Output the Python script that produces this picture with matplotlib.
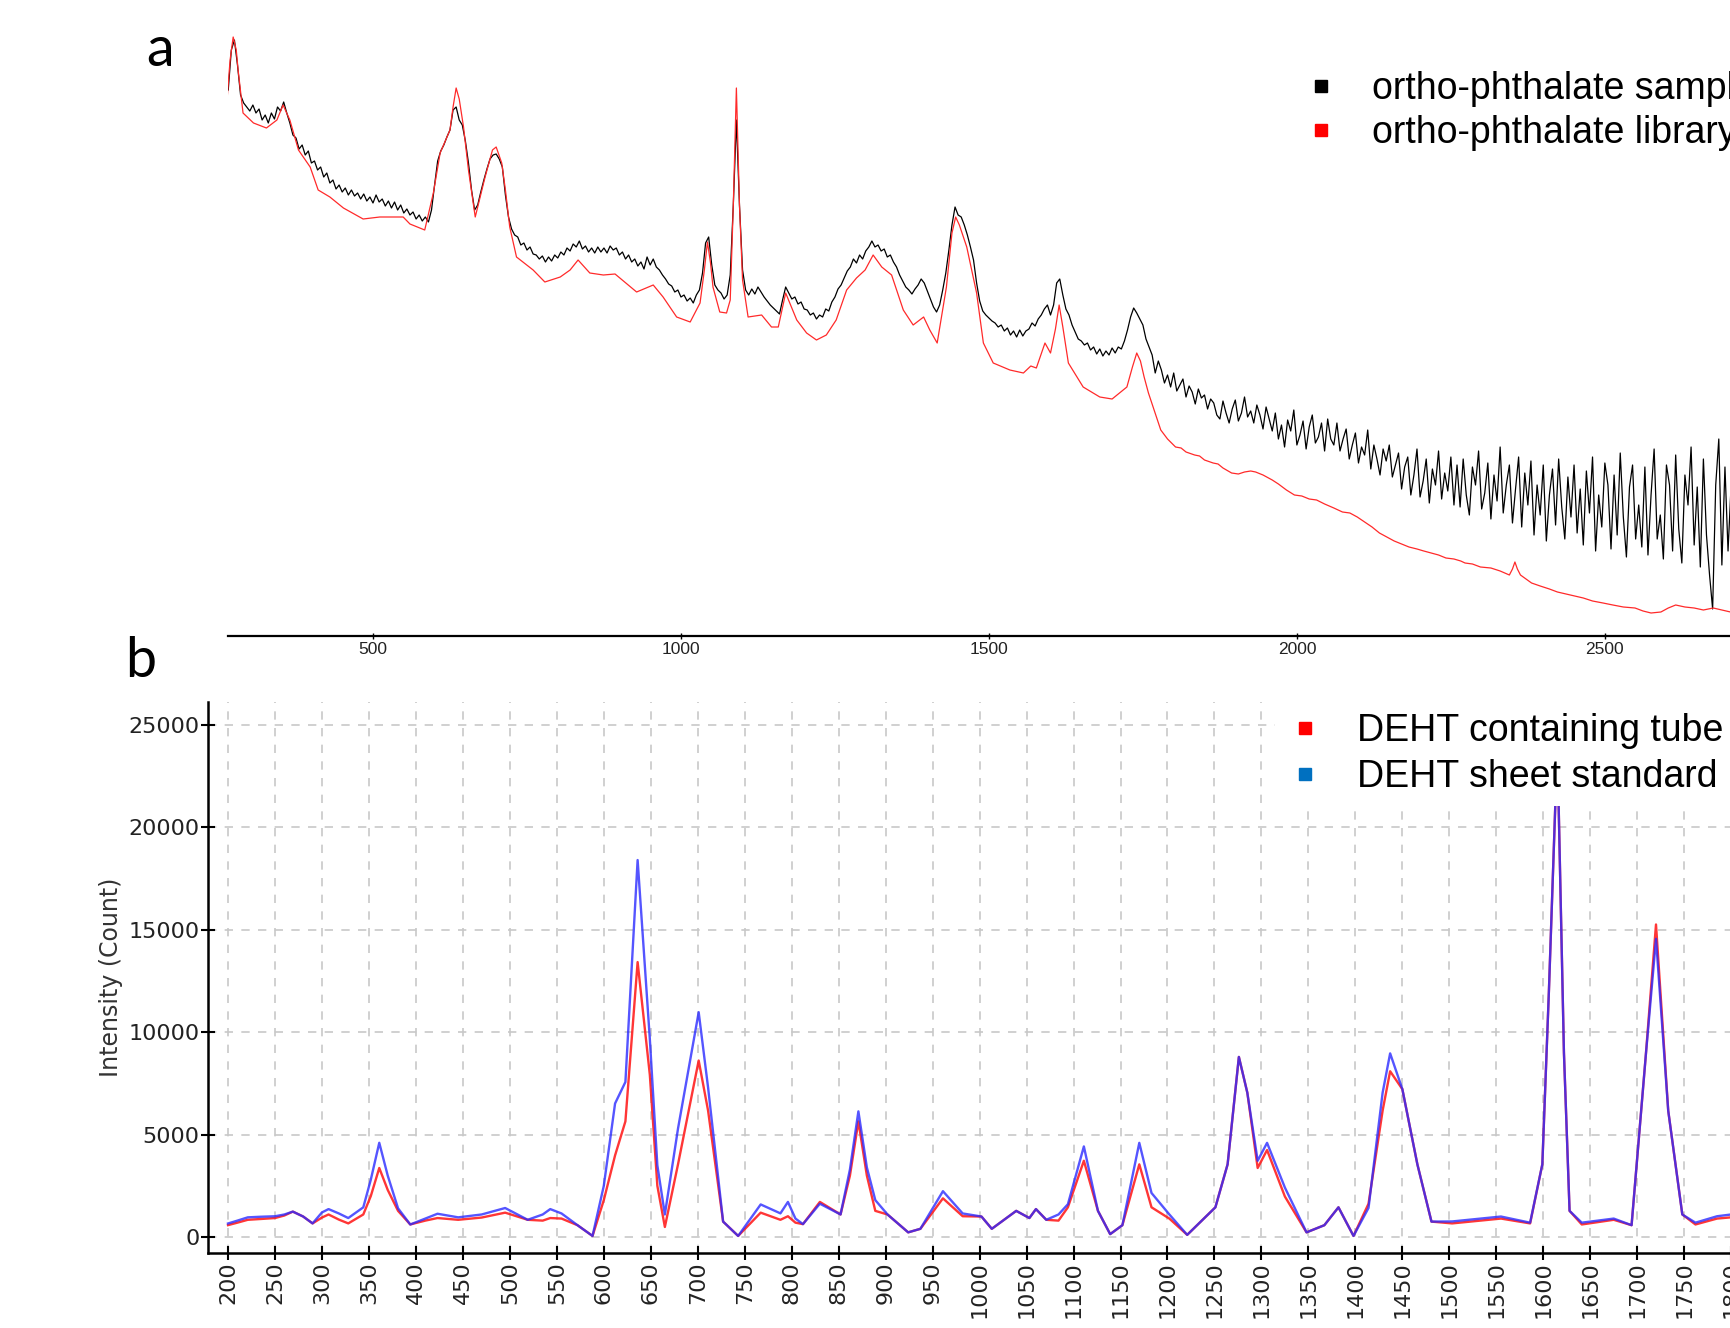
import numpy as np
import matplotlib.pyplot as plt
from matplotlib.lines import Line2D

W, H = 1731, 1328

# ---- panel a: Raman spectra, arbitrary intensity ----
# library spectrum (red), read at key points
lib_wn = [263, 268, 273, 278, 281, 289, 306, 327, 344, 354, 365, 379, 398, 411, 430, 452,
          484, 511, 549, 560, 584, 598, 609, 625, 630, 635, 640, 647, 655, 666, 682, 694,
          700, 709, 715, 722, 733, 760, 779, 804, 820, 833, 852, 874, 893, 928, 955, 971,
          993, 1015, 1031, 1038, 1043, 1048, 1052, 1063, 1074, 1080, 1085, 1090, 1095, 1100,
          1109, 1131, 1147, 1158, 1170, 1188, 1204, 1220, 1236, 1252, 1269, 1285, 1299, 1312,
          1326, 1342, 1361, 1377, 1394, 1404, 1416, 1431, 1440, 1446, 1452, 1464, 1480, 1491,
          1507, 1534, 1556, 1568, 1577, 1591, 1600, 1608, 1614, 1620, 1629, 1653, 1680, 1700,
          1724, 1733, 1740, 1746, 1752, 1759,
          1779, 1790, 1803, 1812, 1820, 1834, 1842, 1850, 1864, 1872, 1880, 1894, 1905, 1915,
          1925, 1933, 1945, 1960, 1970, 1983, 1996, 2008, 2020, 2032, 2045, 2060, 2074, 2086,
          2098, 2110, 2122, 2134, 2146, 2158, 2170, 2182, 2195, 2206, 2218, 2230, 2242, 2255,
          2266, 2273, 2285, 2298, 2315, 2330, 2345, 2350, 2354, 2358, 2363, 2372, 2381, 2395,
          2410, 2423, 2437, 2451, 2465, 2480, 2497, 2513, 2530, 2549, 2562, 2575, 2591, 2603,
          2615, 2630, 2645, 2660, 2676, 2690, 2704]
lib_int = [535, 575, 598, 585, 565, 522, 512, 507, 515, 530, 515, 485, 468, 445, 438, 427,
           416, 418, 418, 411, 405, 442, 482, 505, 528, 547, 536, 508, 465, 418, 458, 485,
           488, 472, 445, 408, 378, 365, 353, 358, 365, 375, 362, 360, 361, 343, 350, 338,
           318, 313, 332, 365, 393, 372, 348, 323, 322, 335, 430, 547, 430, 355,
           318, 320, 308, 308, 342, 315, 302, 295, 300, 315, 345, 357, 365, 380,
           368, 360, 325, 310, 318, 305, 292, 348, 402, 418, 410, 388, 342, 292,
           272, 265, 262, 269, 267, 292, 282, 306, 330, 308, 272, 248, 238, 236,
           248, 268, 282, 274, 258, 242,
           205, 196, 188, 187, 183, 180, 179, 175, 172, 171, 167, 162, 161, 163,
           164, 163, 160, 155, 151, 145, 140, 139, 136, 135, 131, 127, 123, 122,
           118, 113, 108, 102, 98, 94, 91, 88, 86, 84, 82, 80, 77, 76,
           74, 72, 71, 68, 67, 64, 60, 66, 73, 66, 60, 56, 52, 49,
           46, 43, 41, 39, 37, 34, 32, 30, 28, 27, 24, 22, 23, 27,
           30, 28, 27, 25, 27, 25, 23]

# sample spectrum (black), every 5 cm-1 from 265 to 2705
sample_wn = np.arange(265, 2706, 5)
sample_int = [
    545, 585, 595, 570, 540, 532, 528, 524, 530, 522, 526, 515, 520, 512, 522, 516, 528, 524, 533, 522,
    512, 500, 497, 486, 490, 480, 484, 472, 474, 465, 468, 458, 462, 452, 455, 446, 450, 443, 447, 440,
    445, 439, 442, 436, 441, 434, 438, 432, 440, 433, 436, 429, 434, 427, 433, 425, 430, 422, 426, 420,
    423, 416, 420, 414, 418, 413, 425, 450, 474, 484, 490, 498, 505, 525, 528, 515, 510, 494, 472, 445,
    425, 430, 443, 455, 466, 476, 480, 481, 476, 468, 440, 418, 406, 400, 398, 390, 392, 385, 388, 381,
    380, 376, 379, 373, 378, 374, 380, 377, 383, 380, 387, 384, 391, 388, 394, 386, 389, 383, 387, 382,
    388, 383, 387, 382, 389, 385, 387, 380, 383, 376, 380, 373, 376, 369, 373, 366, 378, 370, 376, 368,
    365, 360, 356, 351, 349, 343, 345, 338, 340, 334, 337, 332, 340, 345, 362, 392, 398, 370, 350, 345,
    342, 336, 340, 360, 430, 515, 430, 365, 345, 340, 346, 341, 348, 343, 338, 334, 330, 327, 324, 321,
    335, 348, 342, 336, 338, 331, 333, 326, 325, 320, 322, 316, 320, 318, 326, 324, 333, 338, 346, 350,
    357, 364, 368, 376, 372, 380, 376, 384, 388, 394, 388, 390, 384, 386, 378, 380, 373, 368, 360, 354,
    348, 345, 341, 346, 350, 356, 352, 344, 336, 328, 323, 330, 345, 362, 385, 410, 428, 420, 418, 410,
    400, 388, 375, 352, 334, 324, 320, 317, 314, 312, 308, 310, 304, 307, 300, 304, 298, 305, 299, 304,
    306, 312, 309, 316, 320, 326, 330, 320, 330, 352, 356, 340, 326, 320, 310, 303, 296, 294, 290, 292,
    285, 288, 281, 286, 279, 284, 280, 287, 282, 288, 286, 294, 305, 318, 327, 322, 316, 310, 296, 288,
    280, 262, 274, 265, 252, 260, 248, 262, 244, 250, 256, 238, 249, 243, 231, 246, 237, 240, 226, 236,
    232, 220, 216, 234, 222, 212, 226, 235, 214, 222, 238, 218, 224, 212, 230, 220, 206, 228, 216, 204,
    222, 196, 210, 188, 215, 204, 225, 190, 200, 214, 186, 208, 220, 192, 198, 212, 184, 216, 196, 190,
    212, 184, 196, 206, 176, 190, 202, 172, 188, 180, 205, 166, 190, 176, 160, 186, 174, 190, 158, 170,
    182, 146, 168, 178, 140, 160, 186, 138, 154, 176, 132, 166, 150, 184, 136, 162, 144, 178, 130, 170,
    128, 176, 140, 120, 168, 150, 184, 126, 142, 172, 116, 160, 134, 188, 122, 150, 170, 112, 146, 178,
    108, 162, 130, 174, 100, 150, 120, 170, 94, 140, 166, 110, 176, 128, 96, 158, 118, 170, 102, 146,
    90, 164, 122, 178, 84, 140, 108, 172, 150, 86, 160, 100, 182, 118, 78, 148, 170, 96, 130, 88,
    168, 80, 140, 186, 96, 120, 76, 170, 150, 84, 180, 106, 72, 160, 130, 188, 90, 148, 68, 176,
    100, 60, 26, 150, 196, 70, 168, 84, 150]

# ---- panel b: DEHT spectra ----
deht_wn = [200, 210, 221, 235, 250, 260, 269, 280, 290, 300, 307, 318, 328, 344, 352, 361,
           370, 381, 394, 410, 423, 445, 470, 495, 519, 535, 543, 555, 572, 588, 600, 612,
           623, 636, 649, 657, 665, 679, 701, 711, 727, 743, 767, 788, 796, 804, 812, 830,
           852, 862, 871, 880, 889, 902, 924, 937, 961, 982, 1002, 1013, 1039, 1053, 1060, 1071,
           1084, 1094, 1111, 1126, 1139, 1152, 1170, 1183, 1202, 1221, 1251, 1264, 1276, 1285,
           1296, 1306, 1325, 1348, 1367, 1382, 1398, 1414, 1429, 1437, 1450, 1466, 1481, 1503,
           1555, 1586, 1599, 1606, 1615, 1622, 1628, 1641, 1675, 1694, 1709, 1720, 1733, 1748,
           1762, 1785, 1800, 1815]
tube = [580, 700, 840, 880, 926, 1050, 1240, 1000, 664, 950, 1100, 850, 664, 1100, 2000, 3370,
        2300, 1276, 612, 800, 926, 840, 950, 1189, 840, 800, 926, 900, 577, 52, 1800, 3985,
        5646, 13424, 7918, 2500, 490, 3548, 8617, 6170, 752, 52, 1189, 840, 1014, 700, 629, 1713,
        1100, 3000, 5646, 3000, 1276, 1100, 227, 400, 1888, 1014, 1000, 400, 1276, 926, 1363, 840,
        800, 1450, 3723, 1276, 140, 577, 3548, 1450, 900, 105, 1450, 3548, 8792, 7044,
        3370, 4247, 1975, 227, 577, 1450, 52, 1625, 6170, 8093, 7219, 3548, 752, 664,
        900, 664, 3548, 12000, 24000, 9000, 1276, 612, 840, 577, 8792, 15260, 6170, 1100,
        612, 900, 960, 960]
sheet = [660, 800, 960, 990, 1013, 1100, 1240, 1000, 664, 1200, 1363, 1150, 926, 1450, 2800, 4600,
         3000, 1400, 612, 900, 1136, 960, 1100, 1416, 840, 1100, 1363, 1150, 577, 52, 2500, 6520,
         7569, 18406, 9666, 3500, 1100, 5296, 10977, 7300, 752, 52, 1590, 1154, 1713, 900, 629, 1625,
         1100, 3300, 6135, 3400, 1800, 1100, 227, 400, 2237, 1150, 1000, 400, 1276, 926, 1363, 840,
         1100, 1600, 4422, 1276, 140, 577, 4597, 2150, 1100, 105, 1450, 3548, 8792, 7044,
         3723, 4597, 2412, 227, 577, 1450, 52, 1420, 7044, 8967, 7219, 3548, 752, 760,
         1000, 700, 3548, 12000, 24000, 9000, 1276, 700, 900, 577, 8792, 14560, 6170, 1100,
         700, 1014, 1100, 1100]


def box(x0, y0, x1, y1):
    # pixel box (top-left origin) -> figure fraction rect
    return [x0 / W, 1 - y1 / H, (x1 - x0) / W, (y1 - y0) / H]


fig = plt.figure(figsize=(W / 100, H / 100), dpi=100)

# panel a
ax1 = fig.add_axes(box(228, 20, 2036, 636))
ax1.plot(sample_wn, sample_int, color='black', lw=0.9)
ax1.plot(lib_wn, lib_int, color='#ff2a2a', lw=0.9)
ax1.set_xlim(264.6, 3200)
ax1.set_ylim(-1, 615)
for s in ['top', 'right', 'left']:
    ax1.spines[s].set_visible(False)
ax1.spines['bottom'].set_linewidth(1.6)
ax1.set_yticks([])
ax1.set_xticks([500, 1000, 1500, 2000, 2500, 3000])
ax1.tick_params(axis='x', direction='inout', length=5, width=1, labelsize=12.5,
                pad=2, labelcolor='#222222')
for t in ax1.get_xticklabels():
    t.set_family('Liberation Sans')

h1 = [Line2D([], [], ls='none', marker='s', ms=8.5, color='black'),
      Line2D([], [], ls='none', marker='s', ms=8.5, color='#ff0000')]
ax1.legend(h1, ['ortho-phthalate sample', 'ortho-phthalate library'],
           loc='upper left', bbox_to_anchor=(1302 / W, 1 - 71 / H),
           bbox_transform=fig.transFigure, frameon=False, borderpad=0,
           borderaxespad=0, handlelength=1.0, handletextpad=0.88, labelspacing=0.22,
           prop={'family': 'Liberation Sans', 'size': 27})

# panel b
ax2 = fig.add_axes(box(208, 702, 2013, 1253))
ax2.set_axisbelow(True)
ax2.grid(True, ls=(0, (5, 5)), color='#c8c8c8', lw=1.2)
ax2.plot(deht_wn, tube, color='#ff2020', lw=1.7, alpha=0.9)
ax2.plot(deht_wn, sheet, color='#2a2aff', lw=1.7, alpha=0.8)
ax2.set_xlim(178.7, 2100)
ax2.set_ylim(-781, 26123)
ax2.set_xticks(np.arange(200, 2101, 50))
ax2.set_yticks([0, 5000, 10000, 15000, 20000, 25000])
for s in ['top', 'right']:
    ax2.spines[s].set_visible(False)
for s in ['left', 'bottom']:
    ax2.spines[s].set_linewidth(1.8)
ax2.tick_params(direction='inout', length=10, width=1.5, labelsize=16, pad=1,
                labelcolor='#222222')
ax2.tick_params(axis='x', labelrotation=90)
ax2.set_ylabel('Intensity (Count)', fontsize=17, color='#333333', labelpad=4)

h2 = [Line2D([], [], ls='none', marker='s', ms=8.5, color='#ff0000'),
      Line2D([], [], ls='none', marker='s', ms=8.5, color='#0070c0')]
ax2.legend(h2, ['DEHT containing tube', 'DEHT sheet standard'],
           loc='upper left', bbox_to_anchor=(1275 / W, 1 - 702 / H),
           bbox_transform=fig.transFigure, frameon=True, facecolor='white',
           edgecolor='none', framealpha=1, fancybox=False, borderpad=0.3,
           borderaxespad=0, handlelength=1.0, handletextpad=0.9, labelspacing=0.26,
           prop={'family': 'Liberation Sans', 'size': 27})

fig.text(160 / W, 1 - 66 / H, 'a', fontsize=40, family='Lato', ha='center', va='baseline')
fig.text(141 / W, 1 - 677 / H, 'b', fontsize=40, family='Lato', ha='center', va='baseline')

fig.savefig('out.png', dpi=100)
